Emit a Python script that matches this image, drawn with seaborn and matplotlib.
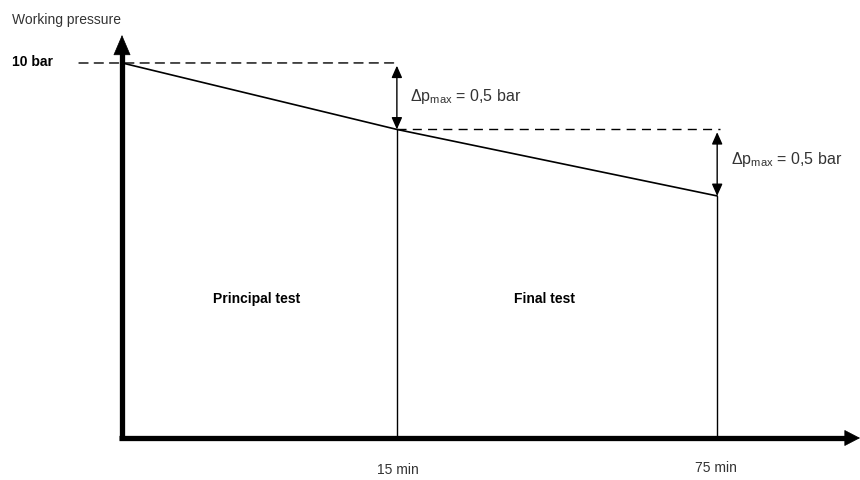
import numpy as np
import matplotlib
matplotlib.use("Agg")
import matplotlib.pyplot as plt
import seaborn as sns
import pandas as pd

# ---- data ----
times = [0, 15, 75]                     # minutes
pressures = [10.0, 9.5, 9.0]            # bar
time_labels = ["15 min", "75 min"]
phase_labels = ["Principal test", "Final test"]
delta_label = r"$\Delta$p$_{\mathrm{max}}$ = 0,5 bar"
y_label = "Working pressure"
top_label = "10 bar"

df = pd.DataFrame({"time": times, "pressure": pressures})

sns.set_theme(style="white")
plt.rcParams["font.family"] = ["Liberation Sans", "DejaVu Sans"]
plt.rcParams["mathtext.fontset"] = "custom"
plt.rcParams["mathtext.rm"] = "Liberation Sans"
plt.rcParams["mathtext.it"] = "Liberation Sans"

W, H = 860, 480
fig = plt.figure(figsize=(8.6, 4.8), dpi=100)
x0, x1 = 122, 860
y0, y1 = 438, 35
ax = fig.add_axes([x0 / W, (H - y0) / H, (x1 - x0) / W, (y0 - y1) / H])

p = 0.48
ax.set_xscale("function", functions=(lambda v: np.sign(v) * np.abs(v) ** p,
                                     lambda v: np.sign(v) * np.abs(v) ** (1 / p)))
ax.set_xlim(0, 117.4)
ax.set_ylim(7.18, 10.21)
for s in ax.spines.values():
    s.set_visible(False)
ax.set_xticks([]); ax.set_yticks([])
ax.set_facecolor("white")

sns.lineplot(data=df, x="time", y="pressure", ax=ax, color="black", lw=1.2)

ymin = ax.get_ylim()[0]
for t, pr in zip(times[1:], pressures[1:]):
    ax.plot([t, t], [ymin, pr], color="black", lw=1.0, clip_on=False)

dash = (0, (6.5, 4.5))
ax.annotate("", xy=(times[1] * 1.01, pressures[0]), xycoords="data",
            xytext=(79, H - 63), textcoords="figure pixels",
            arrowprops=dict(arrowstyle="-", ls=dash, lw=1.0, color="black",
                            shrinkA=0, shrinkB=0))
ax.plot([times[1], times[2] * 1.01], [pressures[1]] * 2, color="black", lw=1.0,
        ls=dash, clip_on=False)

# double arrows
for t, a, b in [(times[1], pressures[0], pressures[1]), (times[2], pressures[1], pressures[2])]:
    ax.annotate("", xy=(t, a), xytext=(t, b),
                arrowprops=dict(arrowstyle="<|-|>,head_length=0.36,head_width=0.16",
                                color="black", lw=1.0, mutation_scale=20,
                                shrinkA=0, shrinkB=2))

tc = "#333333"
fig.text(410 / W, 1 - 96 / H, delta_label, fontsize=11.5, color=tc, va="center", ha="left")
fig.text(731 / W, 1 - 160 / H, delta_label, fontsize=11.5, color=tc, va="center", ha="left")

# main axes
ax.plot([0, 0], [-0.006, 0.96], transform=ax.transAxes, color="black", lw=3.8,
        solid_capstyle="butt", clip_on=False)
ax.plot([-0.0035, 0.985], [0, 0], transform=ax.transAxes, color="black", lw=3.8,
        solid_capstyle="butt", clip_on=False)
ax.annotate("", xy=(0, 1.0), xycoords="axes fraction", xytext=(0, 0.9),
            arrowprops=dict(arrowstyle="-|>,head_length=0.68,head_width=0.29",
                            color="black", lw=0.5, mutation_scale=20,
                            shrinkA=0, shrinkB=0))
ax.annotate("", xy=(1.0, 0), xycoords="axes fraction", xytext=(0.95, 0),
            arrowprops=dict(arrowstyle="-|>,head_length=0.52,head_width=0.27",
                            color="black", lw=0.5, mutation_scale=20,
                            shrinkA=0, shrinkB=0))

# texts
fig.text(12 / W, 1 - 20 / H, y_label, fontsize=10, color=tc, va="center", ha="left")
fig.text(12 / W, 1 - 62 / H, top_label, fontsize=10, color="black", weight="bold",
         va="center", ha="left")
fig.text(398 / W, 1 - 470 / H, time_labels[0], fontsize=10, color=tc, ha="center", va="center")
fig.text(716 / W, 1 - 468 / H, time_labels[1], fontsize=10, color=tc, ha="center", va="center")
narrow = ["Liberation Sans Narrow", "Liberation Sans", "DejaVu Sans"]
fig.text(257 / W, 1 - 299 / H, phase_labels[0], fontsize=10, weight="bold", ha="center",
         va="center", color="black", family=narrow)
fig.text(545 / W, 1 - 299 / H, phase_labels[1], fontsize=10, weight="bold", ha="center",
         va="center", color="black", family=narrow)

fig.savefig("out.png", dpi=100, facecolor="white")
